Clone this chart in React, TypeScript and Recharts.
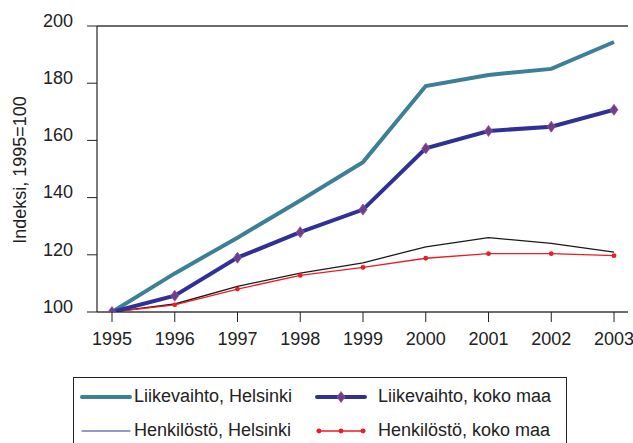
import React from 'react';
import {LineChart, Line, XAxis, YAxis, CartesianGrid, ReferenceLine} from 'recharts';

// vuodet ja indeksit (1995=100), luettu kuvasta
const years = ['1995', '1996', '1997', '1998', '1999', '2000', '2001', '2002', '2003'];
const liikevaihtoHelsinki = [100, 113.5, 126, 139, 152.4, 179, 182.9, 185, 194.4];
const liikevaihtoKokoMaa = [100, 105.7, 119, 127.9, 135.8, 157.2, 163.3, 164.8, 170.7];
const henkilostoHelsinki = [100, 102.8, 109, 113.6, 117.2, 122.8, 126, 124, 120.9];
const henkilostoKokoMaa = [100, 102.5, 108, 112.8, 115.6, 118.8, 120.4, 120.4, 119.7];
const yTicks = [100, 120, 140, 160, 180, 200];

const data = years.map((y, i) => ({
    year: y,
    lhel: liikevaihtoHelsinki[i],
    lmaa: liikevaihtoKokoMaa[i],
    hhel: henkilostoHelsinki[i],
    hmaa: henkilostoKokoMaa[i],
}));

const FONT = '"Liberation Sans", Arial, Helvetica, sans-serif';
const FS = 18;
const TEAL = '#3b8096';
const NAVY = '#2f3196';
const RED = '#ec1c24';

const Diamond = (props: {cx?: number, cy?: number}) => {
    const {cx, cy} = props;
    if (cx == null || cy == null) return null;
    return (
        <polygon
            points={`${cx},${cy - 5.5} ${cx + 4},${cy} ${cx},${cy + 5.5} ${cx - 4},${cy}`}
            fill="#6a3f92"
            stroke="#a0508a"
            strokeWidth={0.8}
        />
    );
};

const RedDot = (props: {cx?: number, cy?: number}) => {
    const {cx, cy} = props;
    if (cx == null || cy == null) return null;
    return <circle cx={cx} cy={cy} r={2.4} fill={RED} />;
};

const YTick = (props: any) => {
    const {x, y, payload} = props;
    return (
        <text x={x} y={y - 4} textAnchor="end" dominantBaseline="middle" fontSize={FS} fontFamily={FONT} fill="#222">
            {payload.value}
        </text>
    );
};

const XTick = (props: any) => {
    const {x, y, payload} = props;
    return (
        <text x={x} y={y + 21} textAnchor="middle" fontSize={FS} fontFamily={FONT} fill="#222">
            {payload.value}
        </text>
    );
};

const legendItems = [
    {label: 'Liikevaihto, Helsinki', color: TEAL, width: 4, marker: 'none', col: 0, row: 0},
    {label: 'Liikevaihto, koko maa', color: NAVY, width: 4, marker: 'diamond', col: 1, row: 0},
    {label: 'Henkilöstö, Helsinki', color: NAVY, width: 1.2, marker: 'none', col: 0, row: 1},
    {label: 'Henkilöstö, koko maa', color: RED, width: 1.3, marker: 'dot', col: 1, row: 1},
];

const LegendBox = () => (
    <svg width={494} height={66} style={{display: 'block'}}>
        <rect x={0.5} y={0.5} width={493} height={90} fill="#fff" stroke="#222" strokeWidth={1} />
        {legendItems.map((it) => {
            const x0 = it.col === 0 ? 9 : 244;
            const x1 = x0 + 48;
            const cy = it.row === 0 ? 20 : 54;
            const tx = it.col === 0 ? 61 : 305;
            return (
                <g key={it.label}>
                    <line x1={x0} y1={cy} x2={x1} y2={cy} stroke={it.color} strokeWidth={it.width} strokeLinecap="round" />
                    {it.marker === 'diamond' && <Diamond cx={(x0 + x1) / 2} cy={cy} />}
                    {it.marker === 'dot' && [x0 + 2, (x0 + x1) / 2, x1 - 2].map((mx) => <RedDot key={mx} cx={mx} cy={cy} />)}
                    <text x={tx} y={cy} dominantBaseline="middle" fontSize={FS} fontFamily={FONT} fill="#222">{it.label}</text>
                </g>
            );
        })}
    </svg>
);

export default function App() {
    return (
        <div style={{position: 'absolute', left: 0, top: 0, width: 633, height: 443, overflow: 'hidden', background: '#fff'}}>
            <LineChart width={633} height={443} data={data} margin={{top: 26, right: 5, left: 0, bottom: 101}}>
                <text x={21} y={170} transform="rotate(-90 21 170)" textAnchor="middle" dominantBaseline="middle"
                      fontSize={FS} fontFamily={FONT} fill="#222">Indeksi, 1995=100</text>
                <CartesianGrid vertical={false} stroke="#6d6d6d" strokeWidth={1} />
                <XAxis
                    dataKey="year"
                    padding={{left: 15, right: 14}}
                    height={30}
                    tickSize={10}
                    tick={<XTick />}
                    axisLine={{stroke: '#222', strokeWidth: 1.2}}
                    tickLine={{stroke: '#222'}}
                    interval={0}
                />
                <YAxis
                    yAxisId="l"
                    domain={[100, 200]}
                    ticks={yTicks}
                    width={97}
                    tickSize={10}
                    tickMargin={14}
                    tick={<YTick />}
                    axisLine={{stroke: '#222', strokeWidth: 1.2}}
                    tickLine={{stroke: '#222'}}
                    allowDataOverflow
                />
                <YAxis yAxisId="r" orientation="right" domain={[100, 200]} width={0} tick={false}
                       axisLine={{stroke: '#222', strokeWidth: 1.2}} tickLine={false} />
                <ReferenceLine yAxisId="l" y={200} stroke="#222" strokeWidth={1.2} />
                <Line yAxisId="l" dataKey="hhel" stroke="#1a1a1a" strokeWidth={1.3} dot={false} isAnimationActive={false} />
                <Line yAxisId="l" dataKey="hmaa" stroke={RED} strokeWidth={1.3} dot={<RedDot />} activeDot={false} isAnimationActive={false} />
                <Line yAxisId="l" dataKey="lhel" stroke={TEAL} strokeWidth={4} dot={false} isAnimationActive={false} />
                <Line yAxisId="l" dataKey="lmaa" stroke={NAVY} strokeWidth={4} dot={<Diamond />} activeDot={false} isAnimationActive={false} />
            </LineChart>
            <div style={{position: 'absolute', left: 73, top: 377}}>
                <LegendBox />
            </div>
        </div>
    );
}
